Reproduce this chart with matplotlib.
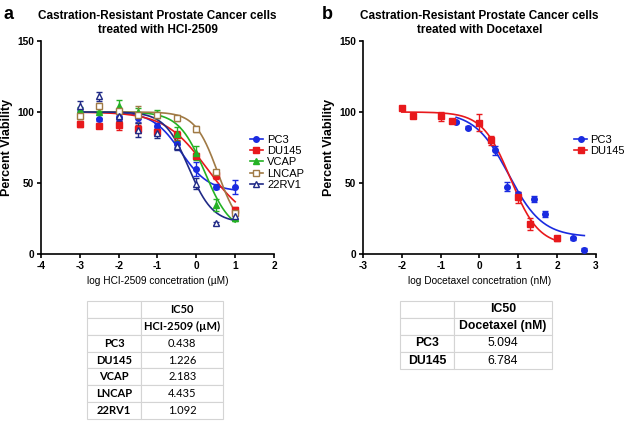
import numpy as np
import matplotlib
matplotlib.use("Agg")
import matplotlib.pyplot as plt

plt.rcParams['font.family'] = ['Liberation Sans', 'DejaVu Sans']
plt.rcParams['axes.unicode_minus'] = False

# ---- panel a: HCI-2509 ----
hci_x = [-3, -2.5, -2, -1.5, -1, -0.5, 0, 0.5, 1]
hci_lines = ['PC3', 'DU145', 'VCAP', 'LNCAP', '22RV1']
hci_y = {
    'PC3':   [98.5, 95, 96.5, 96, 90, 77.5, 60, 47.5, 47],
    'DU145': [91.5, 90, 90.5, 88, 86, 83.5, 69, 55.5, 31],
    'VCAP':  [101.5, 100, 104.5, 100, 98.5, 84.5, 71, 34.5, 25.5],
    'LNCAP': [97, 104, 100.5, 98, 98, 96, 88, 57.5, 29],
    '22RV1': [104.5, 111, 97, 87.5, 85, 76, 49.5, 21.5, 26.5],
}
hci_err = {
    'PC3':   [2, 1, 2, 3, 2, 2, 5, 2, 5],
    'DU145': [2, 1, 3, 3, 2, 3, 2, 3, 2],
    'VCAP':  [2, 1, 4, 3, 3, 5, 5, 4, 2],
    'LNCAP': [2, 2, 2, 6, 2, 2, 2, 2, 2],
    '22RV1': [3, 3, 3, 5, 3, 3, 4, 1, 2],
}
# 4PL fit parameters: bottom, top, logIC50, hill
hci_fit = {
    'PC3':   (44, 100, -0.4, 1.2),
    'DU145': (20, 100, 0.28, 0.8),
    'VCAP':  (15, 100, 0.22, 1.3),
    'LNCAP': (15, 100, 0.55, 1.5),
    '22RV1': (22, 100, -0.2, 1.4),
}
hci_ic50 = ['0.438', '1.226', '2.183', '4.435', '1.092']

# ---- panel b: Docetaxel ----
doc_lines = ['PC3', 'DU145']
doc_x = {
    'PC3':   [-0.6, -0.3, 0.4, 0.7, 1.0, 1.4, 1.7, 2.4, 2.7],
    'DU145': [-2, -1.7, -1, -0.7, 0, 0.3, 1.0, 1.3, 2.0],
}
doc_y = {
    'PC3':   [93, 89, 73, 47.5, 42, 38.5, 28, 11, 3],
    'DU145': [102.5, 97, 97, 94, 92.5, 80, 40, 21, 11],
}
doc_err = {
    'PC3':   [1, 1, 3, 3, 2, 2, 2, 1, 1],
    'DU145': [1, 1, 3, 1, 6, 3, 4, 4, 2],
}
doc_fit = {
    'PC3':   (12, 100, 0.75, 1.0),
    'DU145': (6, 100, 0.8, 1.2),
}
doc_ic50 = ['5.094', '6.784']

colors = {'PC3': '#1a2be0', 'DU145': '#e8191c', 'VCAP': '#24b224',
          'LNCAP': '#a07a45', '22RV1': '#202a86'}
markers = {'PC3': 'o', 'DU145': 's', 'VCAP': '^', 'LNCAP': 's', '22RV1': '^'}
filled = {'PC3': True, 'DU145': True, 'VCAP': True, 'LNCAP': False, '22RV1': False}


def four_pl(x, p):
    bottom, top, logic, hill = p
    return bottom + (top - bottom) / (1 + 10 ** ((x - logic) * hill))


def style_axes(ax, xlim, xticks, xlabel):
    ax.set_xlim(*xlim)
    ax.set_ylim(0, 150)
    ax.set_xticks(xticks)
    ax.set_yticks([0, 50, 100, 150])
    ax.spines['top'].set_visible(False)
    ax.spines['right'].set_visible(False)
    ax.spines['left'].set_linewidth(1.2)
    ax.spines['bottom'].set_linewidth(1.2)
    ax.tick_params(direction='out', length=3, width=1.2, labelsize=7.3, pad=2)
    for lbl in ax.get_xticklabels() + ax.get_yticklabels():
        lbl.set_fontweight('bold')
    ax.set_ylabel('Percent Viability', fontsize=9, fontweight='bold', labelpad=3)
    ax.set_xlabel(xlabel, fontsize=7.3, labelpad=4)


def draw_series(ax, name, xs, ys, es, fit, xr):
    c = colors[name]
    xx = np.linspace(xr[0], xr[1], 200)
    ax.plot(xx, four_pl(xx, fit), color=c, lw=1.2, zorder=2)
    ax.errorbar(xs, ys, yerr=es, fmt='none', ecolor=c, elinewidth=1, capsize=2, capthick=1, zorder=3)
    ax.plot(xs, ys, ls='none', marker=markers[name], ms=4, color=c,
            mfc=c if filled[name] else 'white', mec=c, mew=1, zorder=4)
    # legend proxy
    ax.plot([], [], color=c, lw=1.2, marker=markers[name], ms=4,
            mfc=c if filled[name] else 'white', mec=c, label=name)


fig = plt.figure(figsize=(6.24, 4.21), dpi=100)

ax1 = fig.add_axes([0.0657, 0.3967, 0.3734, 0.5059])
for name in hci_lines:
    draw_series(ax1, name, hci_x, hci_y[name], hci_err[name], hci_fit[name], (-3, 1))
style_axes(ax1, (-4, 2), [-4, -3, -2, -1, 0, 1, 2], 'log HCI-2509 concetration (\u00b5M)')
ax1.legend(loc='upper left', bbox_to_anchor=(0.895, 0.56), frameon=False, fontsize=8,
           handlelength=1.2, handletextpad=0.4, labelspacing=0.12, borderaxespad=0,
           borderpad=0)
ax1.set_title('Castration-Resistant Prostate Cancer cells\ntreated with HCI-2509',
              fontsize=8.5, fontweight='bold', pad=6)

ax2 = fig.add_axes([0.5817, 0.3967, 0.3734, 0.5059])
for name in doc_lines:
    xr = (doc_x[name][0], doc_x[name][-1])
    draw_series(ax2, name, doc_x[name], doc_y[name], doc_err[name], doc_fit[name], xr)
style_axes(ax2, (-3, 3), [-3, -2, -1, 0, 1, 2, 3], 'log Docetaxel concetration (nM)')
ax2.legend(loc='upper left', bbox_to_anchor=(0.905, 0.56), frameon=False, fontsize=8,
           handlelength=1.2, handletextpad=0.3, labelspacing=0.12, borderaxespad=0,
           borderpad=0)
ax2.set_title('Castration-Resistant Prostate Cancer cells\ntreated with Docetaxel',
              fontsize=8.5, fontweight='bold', pad=6)

fig.text(0.005, 0.985, 'a', fontsize=13, fontweight='bold', va='top')
fig.text(0.515, 0.985, 'b', fontsize=13, fontweight='bold', va='top')


def draw_table(bbox, header2, rows, vals, family, size, wlab):
    ax = fig.add_axes(bbox)
    ax.axis('off')
    cell_text = [['', 'IC50'], ['', header2]] + [[r, v] for r, v in zip(rows, vals)]
    tb = ax.table(cellText=cell_text, colWidths=[wlab, 1 - wlab], loc='center',
                  bbox=[0, 0, 1, 1], cellLoc='center')
    tb.auto_set_font_size(False)
    for (r, c), cell in tb.get_celld().items():
        cell.set_edgecolor('#d4d4d4')
        cell.set_linewidth(0.8)
        txt = cell.get_text()
        txt.set_fontsize(size)
        txt.set_fontfamily(family)
        if r < 2 or c == 0:
            txt.set_fontweight('bold')
    return tb


draw_table([87 / 624, (421 - 419) / 421, (223 - 87) / 624, 118 / 421],
           'HCI-2509 (\u00b5M)', hci_lines, hci_ic50, ['Lato', 'DejaVu Sans'], 8, 0.40)
draw_table([400 / 624, (421 - 369) / 421, (552 - 400) / 624, 68 / 421],
           'Docetaxel (nM)', doc_lines, doc_ic50, ['Liberation Sans', 'DejaVu Sans'], 8.8, 0.355)

fig.savefig('out.png', dpi=100)
